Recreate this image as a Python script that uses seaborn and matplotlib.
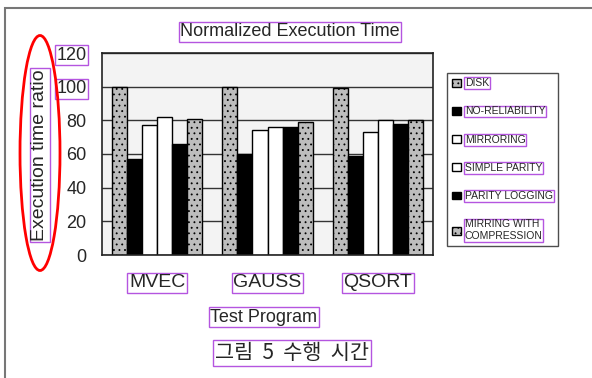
import pandas as pd
import matplotlib
matplotlib.use("Agg")
import matplotlib.pyplot as plt
from matplotlib.patches import Patch, Ellipse, Rectangle
import seaborn as sns

# data
programs = ["MVEC", "GAUSS", "QSORT"]
schemes = ["DISK", "NO-RELIABILITY", "MIRRORING", "SIMPLE PARITY",
           "PARITY LOGGING", "MIRRING WITH\nCOMPRESSION"]
disk = [100, 100, 99]
no_rel = [57, 60, 59]
mirroring = [77, 74, 73]
simple_parity = [82, 76, 80]
parity_logging = [66, 76, 78]
mirr_comp = [81, 79, 80]
yticks = [0, 20, 40, 60, 80, 100, 120]

sns.set_style("white")
plt.rcParams["font.family"] = ["Liberation Sans", "DejaVu Sans"]
plt.rcParams["hatch.color"] = "#6a6a6a"
plt.rcParams["hatch.linewidth"] = 0.6

rows = []
for s, vals in zip(schemes, [disk, no_rel, mirroring, simple_parity, parity_logging, mirr_comp]):
    for p, v in zip(programs, vals):
        rows.append({"program": p, "scheme": s, "ratio": v})
df = pd.DataFrame(rows)

fills = ["#bdbdbd", "black", "white", "white", "black", "#bdbdbd"]
hatches = ["...", None, None, None, None, "..."]
box = dict(boxstyle="square,pad=0.08", fc="none", ec="#b455e0", lw=1)

fig = plt.figure(figsize=(5.92, 3.78), dpi=100)
ax = fig.add_axes([102 / 592, 1 - 255 / 378, 331 / 592, 202 / 378])
sns.barplot(data=df, x="program", y="ratio", hue="scheme", hue_order=schemes,
            width=0.82, ax=ax, legend=False, edgecolor="black", linewidth=1)
for cont, fc, h in zip(ax.containers, fills, hatches):
    for bar in cont:
        bar.set_facecolor(fc)
        bar.set_edgecolor("black")
        if h:
            bar.set_hatch(h)

ax.set_facecolor("#f3f3f3")
ax.set_ylim(0, 120)
ax.set_yticks(yticks)
ax.yaxis.grid(True, color="#333333", lw=1)
ax.set_axisbelow(True)
for sp in ax.spines.values():
    sp.set_color("#222222")
    sp.set_linewidth(1.2)
ax.tick_params(axis="both", length=0, labelsize=13)
ax.tick_params(axis="x", pad=14, labelsize=14)
ax.tick_params(axis="y", pad=11)
ax.set_xlabel("")
ax.set_ylabel("")
for lab in ax.get_xticklabels():
    lab.set_bbox(box)
for lab in ax.get_yticklabels()[-2:]:
    lab.set_bbox(box)

fig.text(290 / 592, 1 - 32 / 378, "Normalized Execution Time", ha="center", va="center",
         fontsize=13, bbox=box)
fig.text(40 / 592, 1 - 155 / 378, "Execution time ratio", ha="center", va="center",
         rotation=90, fontsize=14, bbox=box)
fig.text(264 / 592, 1 - 317 / 378, "Test Program", ha="center", va="center",
         fontsize=13, bbox=box)
fig.text(292 / 592, 1 - 353 / 378, "그림  5  수행  시간", ha="center", va="center",
         fontsize=15, family=["Noto Sans CJK KR", "DejaVu Sans"], bbox=box)

# red ellipse around the axis title
fig.patches.append(Ellipse((40 / 592, 1 - 153 / 378), 40 / 592, 235 / 378,
                           transform=fig.transFigure, fill=False, ec="red", lw=2))
# scan frame
fig.patches.append(Rectangle((5 / 592, -0.05), 1.1, 1 - 8 / 378 + 0.05,
                             transform=fig.transFigure, fill=False, ec="#777777", lw=1.5))

handles = [Patch(facecolor=fc, edgecolor="black", hatch=h) for fc, h in zip(fills, hatches)]
leg = fig.legend(handles, schemes, loc="upper left",
                 bbox_to_anchor=(447 / 592, 1 - 73 / 378), fontsize=7.5,
                 frameon=True, fancybox=False, edgecolor="#222222",
                 handlelength=0.8, handleheight=0.8, handletextpad=0.4,
                 labelspacing=1.75, borderpad=0.5, borderaxespad=0)
leg.get_frame().set_linewidth(1)
for t in leg.get_texts():
    t.set_bbox(box)

fig.savefig("out.png", dpi=100)
